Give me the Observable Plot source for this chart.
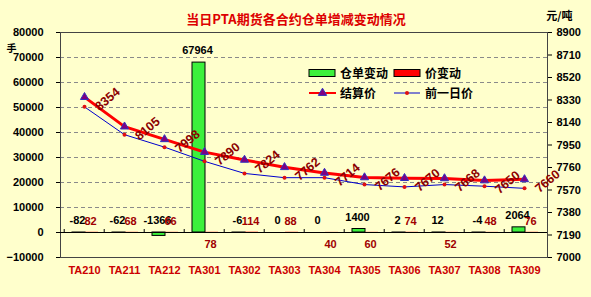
<!DOCTYPE html>
<html><head><meta charset="utf-8">
<script src="https://cdn.jsdelivr.net/npm/d3@7"></script>
<script src="https://cdn.jsdelivr.net/npm/@observablehq/plot@0.6"></script>
<style>
html,body{margin:0;padding:0;background:#FFFFCC;}
#chart svg{display:block;}
</style></head>
<body><div id="chart"></div>
<script>
// ---- data ----
const contracts = ["TA210","TA211","TA212","TA301","TA302","TA303","TA304","TA305","TA306","TA307","TA308","TA309"];
const receiptChange = [-82,-62,-1366,67964,-6,0,0,1400,2,12,-4,2064];   // 仓单变动
const priceChange   = [82,68,66,78,114,88,40,60,74,52,48,76];            // 价变动
const settlePrice   = [8354,8105,7998,7890,7824,7762,7714,7676,7670,7668,7650,7660]; // 结算价
const prevPrice     = [8272,8037,7932,7812,7710,7674,7674,7616,7596,7616,7602,7584]; // 前一日价
const leftTicks  = [-10000,0,10000,20000,30000,40000,50000,60000,70000,80000];
const rightTicks = [7000,7190,7380,7570,7760,7950,8140,8330,8520,8710,8900];
const title = "当日PTA期货各合约仓单增减变动情况";

const rows = contracts.map((c, i) => ({c, receipt: receiptChange[i], change: priceChange[i], settle: settlePrice[i], prev: prevPrice[i]}));
// price labels drawn below the zero line in the reference
const changeBelow = new Set(["TA301","TA304","TA305","TA307"]);

const W = 591, H = 297, mL = 60, mR = 44, mT = 32, mB = 40;
const bw = (W - mL - mR) / contracts.length;
// right (price) axis mapped onto the left-axis domain
const toLeft = d3.scaleLinear([7000, 8900], [-10000, 80000]);

const num = "Liberation Sans, Arial, sans-serif";
const cjk = "Noto Sans CJK SC, sans-serif";

const chart = Plot.plot({
  width: W, height: H,
  marginLeft: mL, marginRight: mR, marginTop: mT, marginBottom: mB,
  style: {background: "#FFFFCC", fontFamily: num, overflow: "visible"},
  x: {type: "band", domain: contracts, padding: 0, label: null},
  y: {domain: [-10000, 80000], label: null},
  marks: [
    Plot.gridY([10000,20000,30000,40000,50000,60000,70000], {stroke: "#8a8a8a", strokeOpacity: 1, strokeDasharray: "4,3"}),
    Plot.frame({stroke: "#444"}),
    Plot.barY(rows, {x: "c", y: "receipt", fill: "#3cf03c", stroke: "#000", strokeWidth: 1, insetLeft: 8, insetRight: 19}),
    Plot.barY(rows, {x: "c", y: "change", fill: "#ff0000", insetLeft: 21, insetRight: 6}),
    Plot.ruleY([0], {stroke: "#000", strokeWidth: 1}),
    Plot.ruleX(rows, {x: "c", y1: 0, y2: 1200, dx: -bw / 2, stroke: "#000"}),
    Plot.axisY(leftTicks, {anchor: "left", tickSize: 4, tickPadding: 13, fontSize: 11, fontWeight: "bold",
      tickFormat: d => d < 0 ? "\u2212" + (-d) : String(d)}),
    Plot.axisY(rightTicks.map(toLeft), {anchor: "right", tickSize: 4, tickPadding: 5, fontSize: 11, fontWeight: "bold",
      tickFormat: d => String(Math.round(toLeft.invert(d)))}),
    Plot.axisX({anchor: "bottom", tickSize: 0, tickPadding: 9, fontSize: 11, fontWeight: "bold", fill: "#cc0000"}),
    // previous-day price
    Plot.line(rows, {x: "c", y: d => toLeft(d.prev), stroke: "#0000cc", strokeWidth: 1}),
    Plot.dot(rows, {x: "c", y: d => toLeft(d.prev), r: 2, fill: "#e01010"}),
    // settlement price
    Plot.line(rows, {x: "c", y: d => toLeft(d.settle), stroke: "#ff0000", strokeWidth: 3}),
    Plot.dot(rows, {x: "c", y: d => toLeft(d.settle), symbol: "triangle", r: 3, fill: "#800080", stroke: "#3030c0", strokeWidth: 1}),
    Plot.text(rows, {x: "c", y: d => toLeft(d.settle), text: d => String(d.settle), rotate: -40, dx: 23, dy: 2,
      fill: "#8b0000", fontSize: 12.5, fontWeight: "bold"}),
    // receipt change labels
    Plot.text(rows, {x: "c", y: d => Math.max(d.receipt, 0), text: d => String(d.receipt), dx: -7, dy: -12,
      fill: "#000", fontSize: 11, fontWeight: "bold"}),
    // price change labels
    Plot.text(rows.filter(d => !changeBelow.has(d.c)), {x: "c", y: 0, text: d => String(d.change), dx: 6, dy: -11,
      fill: "#a00000", fontSize: 11, fontWeight: "bold"}),
    Plot.text(rows.filter(d => changeBelow.has(d.c)), {x: "c", y: 0, text: d => String(d.change), dx: 6, dy: 12,
      fill: "#a00000", fontSize: 11, fontWeight: "bold"}),
    // title and axis units
    Plot.text([title], {frameAnchor: "top", dx: -8, dy: -18, fill: "#dd0000", fontSize: 13, fontWeight: "bold", fontFamily: cjk}),
    Plot.text(["手"], {frameAnchor: "top-left", dx: -54, dy: 12, fill: "#000", fontSize: 10, fontWeight: "bold", fontFamily: cjk}),
    Plot.text(["元/吨"], {frameAnchor: "top-right", dx: 25, dy: -20, fill: "#000", fontSize: 11, fontWeight: "bold", fontFamily: cjk})
  ]
});

// legend inside the plot area
const svg = d3.select(chart);
const lg = svg.append("g").attr("font-family", cjk).attr("font-weight", "bold").attr("font-size", 12)
  .attr("text-anchor", "start");
const legendItems = [
  {label: "仓单变动", type: "rect", fill: "#3cf03c", x: 309, y: 73},
  {label: "价变动", type: "rect", fill: "#ff0000", x: 394, y: 73},
  {label: "结算价", type: "lineTri", x: 309, y: 93},
  {label: "前一日价", type: "lineDot", x: 394, y: 93}
];
for (const it of legendItems) {
  if (it.type === "rect") {
    lg.append("rect").attr("x", it.x).attr("y", it.y - 3.5).attr("width", 26).attr("height", 7)
      .attr("fill", it.fill).attr("stroke", "#000");
  } else if (it.type === "lineTri") {
    lg.append("line").attr("x1", it.x).attr("x2", it.x + 27).attr("y1", it.y).attr("y2", it.y).attr("stroke", "#ff0000").attr("stroke-width", 2);
    lg.append("path").attr("d", d3.symbol(d3.symbolTriangle, 30)()).attr("transform", `translate(${it.x + 13.5},${it.y})`)
      .attr("fill", "#800080").attr("stroke", "#3030c0");
  } else {
    lg.append("line").attr("x1", it.x).attr("x2", it.x + 26).attr("y1", it.y).attr("y2", it.y).attr("stroke", "#0000cc").attr("stroke-width", 1);
    lg.append("circle").attr("cx", it.x + 13).attr("cy", it.y).attr("r", 2).attr("fill", "#e01010");
  }
  lg.append("text").attr("x", it.x + 31).attr("y", it.y).attr("dy", "0.38em").attr("fill", "#000").text(it.label);
}

document.getElementById("chart").appendChild(chart);
</script>
</body></html>
